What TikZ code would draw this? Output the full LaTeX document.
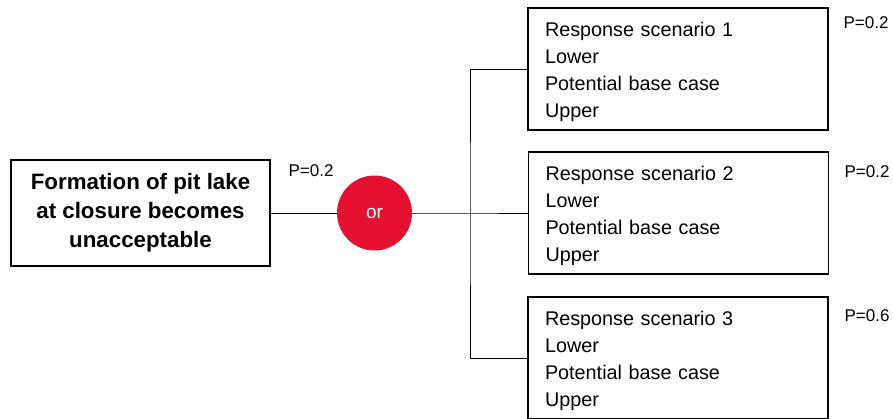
\documentclass[tikz,border=0pt]{standalone}
\usepackage{fontspec}
\setmainfont{Liberation Sans}
\usepackage{xcolor}
\usepackage{tikz}
\definecolor{gatered}{RGB}{230,17,48}

\begin{document}
\begin{tikzpicture}[x=1pt, y=-1pt,
  goalbox/.style={draw, line width=1.5pt, minimum width=259pt, minimum height=106pt, align=center, font=\fontsize{22.3}{29}\selectfont\bfseries},
  scenbox/.style={draw, line width=1.5pt, text width=266pt, inner xsep=17pt, inner ysep=0pt, minimum height=122pt, align=left, font=\fontsize{19.8}{27}\selectfont},
  gate/.style={circle, fill=gatered, text=white, minimum size=75pt, inner sep=0pt, font=\fontsize{19}{22}\selectfont},
  prob/.style={font=\fontsize{17}{20}\selectfont, inner sep=0pt}]
\useasboundingbox (0,0) rectangle (893,418);
\node[goalbox] (goal) at (140.5,213) {Formation of pit lake\\at closure becomes\\unacceptable};
\node[gate] (orgate) at (374.5,213) {or};
\node[prob] (p0) at (311,171) {P=0.2};
\coordinate (split) at (470,213);
\node[scenbox] (scen1) at (678,69) {\rule{0pt}{20pt}Response scenario 1\\Lower\\Potential base case\\Upper};
\node[scenbox] (scen2) at (678.5,213) {\rule{0pt}{20pt}Response scenario 2\\Lower\\Potential base case\\Upper};
\node[scenbox] (scen3) at (678,358) {\rule{0pt}{20pt}Response scenario 3\\Lower\\Potential base case\\Upper};
\node[prob] (p1) at (866,23) {P=0.2};
\node[prob] (p2) at (867,172) {P=0.2};
\node[prob] (p3) at (867,316) {P=0.6};
\draw[line width=1pt] (goal) -- (orgate);
\draw[line width=1pt] (orgate) -- (split) -- (scen2);
\draw[line width=1pt] (scen1.west) -| (split) |- (scen3.west);
\end{tikzpicture}
\end{document}
